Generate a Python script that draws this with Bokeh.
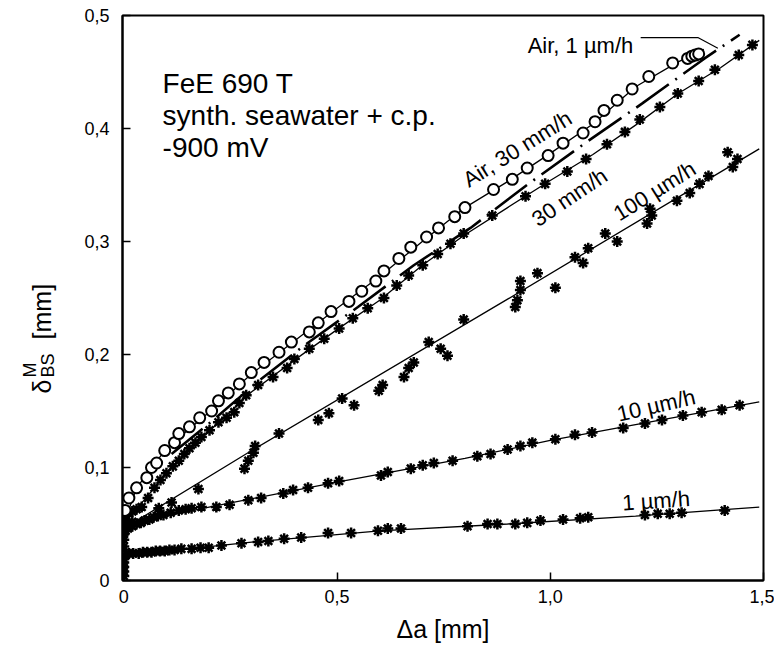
from bokeh.plotting import figure
from bokeh.models import Label, Range1d, FixedTicker, CustomJSTickFormatter
from bokeh.layouts import row
from bokeh.core.properties import value
from bokeh.embed import file_html
from bokeh.resources import INLINE

FONT = "Liberation Sans"

# ---------------- data ----------------
x_ticks = [0, 0.5, 1.0, 1.5]
y_ticks = [0, 0.1, 0.2, 0.3, 0.4, 0.5]

# Air, 30 mm/h  (open circles)
air30_x = [0.003, 0.012, 0.030, 0.054, 0.065, 0.077, 0.096, 0.119, 0.129, 0.154,
           0.178, 0.206, 0.222, 0.245, 0.271, 0.299, 0.329, 0.364, 0.393, 0.435,
           0.456, 0.486, 0.528, 0.558, 0.591, 0.610, 0.645, 0.673, 0.710, 0.738,
           0.776, 0.800, 0.867, 0.911, 0.946, 0.995, 1.030, 1.077, 1.105, 1.126,
           1.157, 1.192, 1.231, 1.287, 1.322, 1.332, 1.340, 1.348]
air30_y = [0.062, 0.073, 0.082, 0.091, 0.100, 0.104, 0.115, 0.122, 0.130, 0.136,
           0.144, 0.150, 0.159, 0.166, 0.174, 0.184, 0.193, 0.202, 0.211, 0.220,
           0.228, 0.238, 0.247, 0.256, 0.265, 0.274, 0.285, 0.295, 0.304, 0.312,
           0.322, 0.330, 0.346, 0.355, 0.365, 0.376, 0.387, 0.396, 0.406, 0.416,
           0.425, 0.435, 0.446, 0.458, 0.462, 0.464, 0.465, 0.466]
air30_fit_x = [0.0, 0.03, 0.1, 0.2, 0.3, 0.4, 0.5, 0.6, 0.7, 0.8, 0.9, 1.0, 1.1, 1.2, 1.3, 1.36]
air30_fit_y = [0.050, 0.082, 0.117, 0.149, 0.183, 0.212, 0.241, 0.269, 0.300, 0.330,
               0.353, 0.378, 0.404, 0.437, 0.459, 0.470]

# Air, 1 um/h  (dash-dot line only)
air1_x = [0.112, 0.213, 0.311, 0.423, 0.549, 0.680, 0.813, 0.949, 1.089, 1.215, 1.362, 1.444]
air1_y = [0.112, 0.143, 0.175, 0.208, 0.242, 0.279, 0.312, 0.351, 0.389, 0.422, 0.462, 0.483]

# 30 mm/h (asterisks)
mm30_x = [0.0, 0.0, 0.005, 0.012, 0.020, 0.030, 0.042, 0.057, 0.072, 0.086, 0.100,
          0.115, 0.129, 0.142, 0.154, 0.168, 0.182, 0.201, 0.222, 0.241, 0.259,
          0.271, 0.287, 0.315, 0.350, 0.383, 0.400, 0.435, 0.470, 0.505, 0.537,
          0.572, 0.610, 0.640, 0.668, 0.701, 0.736, 0.766, 0.797, 0.864, 0.942,
          0.988, 1.040, 1.084, 1.133, 1.175, 1.210, 1.257, 1.299, 1.348, 1.386,
          1.442, 1.474]
mm30_y = [0.048, 0.054, 0.057, 0.060, 0.061, 0.063, 0.065, 0.073, 0.082, 0.089, 0.095,
          0.101, 0.106, 0.112, 0.117, 0.122, 0.127, 0.133, 0.140, 0.144, 0.149,
          0.157, 0.164, 0.173, 0.180, 0.188, 0.196, 0.205, 0.214, 0.223, 0.232,
          0.241, 0.250, 0.261, 0.270, 0.279, 0.289, 0.298, 0.307, 0.323, 0.340,
          0.351, 0.362, 0.373, 0.386, 0.397, 0.408, 0.419, 0.431, 0.442, 0.452,
          0.465, 0.474]
mm30_fit_x = [0.0, 0.02, 0.05, 0.1, 0.2, 0.3, 0.4, 0.5, 0.6, 0.7, 0.8, 0.9, 1.0, 1.1,
              1.2, 1.3, 1.4, 1.49]
mm30_fit_y = [0.048, 0.060, 0.072, 0.095, 0.132, 0.167, 0.195, 0.222, 0.248, 0.279,
              0.306, 0.330, 0.354, 0.377, 0.403, 0.431, 0.454, 0.478]

# 100 um/h (asterisks)
um100_x = [0.0, 0.005, 0.012, 0.020, 0.082, 0.112, 0.175, 0.283, 0.292, 0.304, 0.308,
           0.364, 0.456, 0.481, 0.512, 0.540, 0.598, 0.607, 0.657, 0.668, 0.680,
           0.715, 0.743, 0.759, 0.797, 0.918, 0.923, 0.930, 0.930, 0.970, 1.012,
           1.058, 1.077, 1.089, 1.129, 1.157, 1.227, 1.234, 1.238, 1.297, 1.327,
           1.350, 1.371, 1.416, 1.428, 1.439]
um100_y = [0.042, 0.047, 0.050, 0.052, 0.064, 0.069, 0.081, 0.099, 0.106, 0.113, 0.119,
           0.130, 0.142, 0.148, 0.161, 0.155, 0.168, 0.173, 0.180, 0.188, 0.193,
           0.211, 0.205, 0.199, 0.231, 0.242, 0.248, 0.257, 0.265, 0.272, 0.259,
           0.286, 0.281, 0.294, 0.307, 0.300, 0.316, 0.329, 0.323, 0.336, 0.343,
           0.351, 0.358, 0.379, 0.366, 0.373]
um100_fit_x = [0.0, 0.3, 0.9, 1.49]
um100_fit_y = [0.046, 0.115, 0.249, 0.382]

# 10 um/h (asterisks)
um10_x = [0.0, 0.0, 0.0, 0.004, 0.010, 0.020, 0.030, 0.040, 0.049, 0.060, 0.070,
          0.080, 0.093, 0.110, 0.129, 0.145, 0.159, 0.182, 0.217, 0.248, 0.292,
          0.322, 0.374, 0.397, 0.432, 0.479, 0.505, 0.603, 0.619, 0.673, 0.701,
          0.727, 0.771, 0.829, 0.860, 0.900, 0.930, 0.958, 1.012, 1.058, 1.098,
          1.171, 1.222, 1.262, 1.311, 1.355, 1.402, 1.444]
um10_y = [0.030, 0.036, 0.041, 0.044, 0.046, 0.048, 0.050, 0.051, 0.053, 0.054, 0.056,
          0.057, 0.058, 0.060, 0.062, 0.063, 0.064, 0.065, 0.065, 0.067, 0.071,
          0.073, 0.077, 0.080, 0.082, 0.086, 0.088, 0.093, 0.096, 0.099, 0.102,
          0.104, 0.106, 0.110, 0.112, 0.116, 0.119, 0.122, 0.125, 0.129, 0.131,
          0.135, 0.139, 0.142, 0.146, 0.149, 0.151, 0.155]
um10_fit_x = [0.0, 0.05, 0.2, 0.5, 0.8, 1.0, 1.2, 1.49]
um10_fit_y = [0.044, 0.053, 0.065, 0.087, 0.108, 0.124, 0.138, 0.158]

# 1 um/h (asterisks)
um1_x = [0.0, 0.0, 0.0, 0.0, 0.0, 0.003, 0.012, 0.022, 0.035, 0.045, 0.055, 0.065,
         0.075, 0.085, 0.096, 0.107, 0.119, 0.135, 0.159, 0.180, 0.199, 0.229,
         0.276, 0.315, 0.339, 0.376, 0.416, 0.479, 0.533, 0.596, 0.619, 0.650,
         0.806, 0.853, 0.876, 0.918, 0.946, 0.977, 1.030, 1.070, 1.089, 1.222,
         1.252, 1.280, 1.308, 1.409]
um1_y = [0.004, 0.008, 0.012, 0.016, 0.019, 0.022, 0.024, 0.024, 0.024, 0.025, 0.025,
         0.025, 0.026, 0.026, 0.026, 0.027, 0.027, 0.028, 0.028, 0.029, 0.029,
         0.031, 0.033, 0.034, 0.035, 0.037, 0.038, 0.042, 0.042, 0.044, 0.046,
         0.046, 0.048, 0.050, 0.050, 0.050, 0.051, 0.053, 0.054, 0.055, 0.056,
         0.058, 0.059, 0.059, 0.060, 0.062]
um1_fit_x = [0.0, 0.1, 0.3, 0.6, 0.9, 1.2, 1.49]
um1_fit_y = [0.021, 0.026, 0.034, 0.044, 0.050, 0.057, 0.065]

# leader line of the "Air, 1 um/h" label
leader_x = [1.212, 1.346, 1.393]
leader_y = [0.4805, 0.4805, 0.471]

info_lines = ["FeE 690 T", "synth. seawater + c.p.", "-900 mV"]
info_y = [0.4398, 0.4115, 0.3832]

curve_labels = ["Air, 30 mm/h", "30 mm/h", "100 \u00b5m/h", "10 \u00b5m/h", "1 \u00b5m/h", "Air, 1 \u00b5m/h"]
curve_lab_x = [0.800, 0.962, 1.153, 1.157, 1.169, 0.947]
curve_lab_y = [0.353, 0.318, 0.323, 0.147, 0.0685, 0.4735]
curve_lab_ang = [32, 34, 32, 13, 4, 0]

# y-axis title pieces: side panel shares the main y scale; x in panel pixels
ylab_main = ["\u03b4", "[mm]"]
ylab_main_x = [41, 41]
ylab_main_y = [0.1655, 0.2133]
ylab_small = ["M", "BS"]
ylab_small_x = [29, 47]
ylab_small_y = [0.1796, 0.1796]

# ---------------- layout sizes ----------------
side_w, total_h = 62, 652
border_top, border_bottom = 15, 72

y_range = Range1d(0, 0.5)

# ---------------- side panel for the y-axis title ----------------
side = figure(width=side_w, height=total_h, x_range=Range1d(0, side_w), y_range=y_range,
              output_backend="svg", toolbar_location=None, x_axis_type=None, y_axis_type=None,
              min_border_left=0, min_border_right=0,
              min_border_top=border_top, min_border_bottom=border_bottom)
side.outline_line_color = None
side.grid.visible = False
side.text(ylab_main_x, ylab_main_y, text=ylab_main, angle=90, angle_units="deg",
          text_font=value(FONT), text_font_size="25px", text_color="black",
          text_baseline="alphabetic", text_align="left")
side.text(ylab_small_x, ylab_small_y, text=ylab_small, angle=90, angle_units="deg",
          text_font=value(FONT), text_font_size="18px", text_color="black",
          text_baseline="alphabetic", text_align="left")

# ---------------- main figure ----------------
p = figure(width=774 - side_w, height=total_h, x_range=Range1d(-0.003, 1.5), y_range=y_range,
           output_backend="svg", toolbar_location=None,
           min_border_left=122 - side_w, min_border_right=11,
           min_border_top=border_top, min_border_bottom=border_bottom)
p.grid.visible = False
p.outline_line_color = "black"
p.outline_line_width = 2
p.background_fill_color = "white"
p.border_fill_color = "white"

fmt_code = 'return tick == 0 ? "0" : tick.toFixed(1).replace(".", ",");'
for ax, ticks in ((p.xaxis[0], x_ticks), (p.yaxis[0], y_ticks)):
    ax.ticker = FixedTicker(ticks=ticks)
    ax.formatter = CustomJSTickFormatter(code=fmt_code)
    ax.major_tick_in = 8
    ax.major_tick_out = 0
    ax.minor_tick_line_color = None
    ax.major_tick_line_width = 1.5
    ax.axis_line_width = 2
    ax.major_label_text_font = FONT
    ax.major_label_text_font_size = "18px"
    ax.major_label_text_color = "black"

p.xaxis.major_label_standoff = 9
p.yaxis.major_label_standoff = 13
p.xaxis.axis_label = "\u0394a [mm]"
p.xaxis.axis_label_text_font = FONT
p.xaxis.axis_label_text_font_size = "25px"
p.xaxis.axis_label_text_font_style = "normal"
p.xaxis.axis_label_text_color = "black"
p.xaxis.axis_label_standoff = 9

# fit lines
thin = 1.3
p.line(air30_fit_x, air30_fit_y, line_color="black", line_width=thin)
p.line(mm30_fit_x, mm30_fit_y, line_color="black", line_width=thin)
p.line(um100_fit_x, um100_fit_y, line_color="black", line_width=thin)
p.line(um10_fit_x, um10_fit_y, line_color="black", line_width=thin)
p.line(um1_fit_x, um1_fit_y, line_color="black", line_width=thin)
p.line(air1_x, air1_y, line_color="black", line_width=2.6, line_dash="40 8 2 8")
p.line(leader_x, leader_y, line_color="black", line_width=1.2)

# markers
ast = dict(marker="asterisk", size=11, line_width=2.5, line_color="black")
p.scatter(um1_x, um1_y, **ast)
p.scatter(um10_x, um10_y, **ast)
p.scatter(um100_x, um100_y, **ast)
p.scatter(mm30_x, mm30_y, **ast)
p.scatter(air30_x, air30_y, marker="circle", size=11, line_width=2, line_color="black",
          fill_color="white")

# texts
for t, yy in zip(info_lines, info_y):
    p.add_layout(Label(x=0.091, y=yy, text=t, text_font=FONT, text_font_size="28px",
                       text_color="black", text_baseline="alphabetic", text_align="left"))
for t, xx, yy, a in zip(curve_labels, curve_lab_x, curve_lab_y, curve_lab_ang):
    p.add_layout(Label(x=xx, y=yy, text=t, angle=a, angle_units="deg", text_font=FONT,
                       text_font_size="22px", text_color="black",
                       text_baseline="alphabetic", text_align="left"))

layout = row(side, p, spacing=0)
open("out.html", "w").write(file_html(layout, INLINE))
